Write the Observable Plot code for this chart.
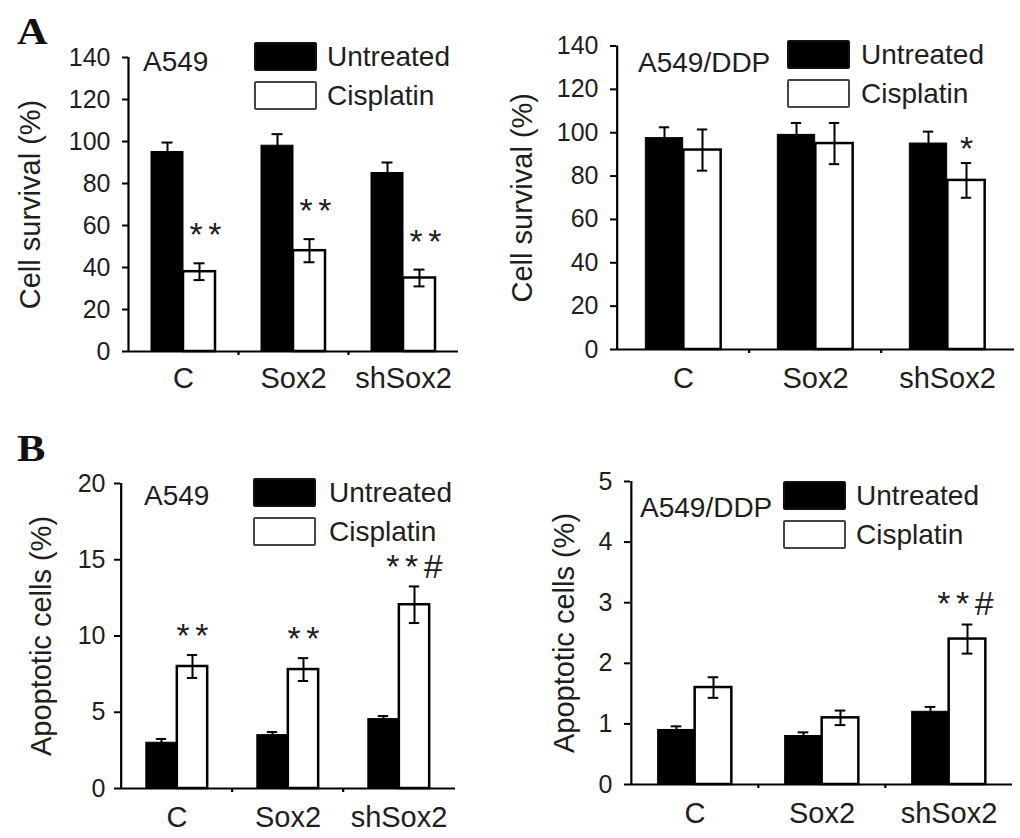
<!DOCTYPE html>
<html>
<head>
<meta charset="utf-8">
<script src="https://cdn.jsdelivr.net/npm/d3@7"></script>
<script src="https://cdn.jsdelivr.net/npm/@observablehq/plot@0.6"></script>
<style>
  body { margin: 0; background: #fff; }
  #fig { position: relative; width: 1020px; height: 838px; overflow: hidden; background: #fff;
         font-family: "Liberation Sans", Arial, sans-serif; color: #1e1e1e; }
  .panel { position: absolute; width: 510px; height: 420px; }
  .panel svg { overflow: visible; }
  g[aria-label="y-axis label"] { font-size: 29px; }
  g[aria-label="text"] text { letter-spacing: 5.5px; }
  .tag { position: absolute; font-family: "Liberation Serif", "Times New Roman", serif; font-weight: bold;
         font-size: 38px; line-height: 1; transform: scaleX(1.12); transform-origin: left top; color: #111; }
  .cell { position: absolute; font-size: 28px; line-height: 1; white-space: nowrap; z-index: 2; }
  .legend { position: absolute; z-index: 2; }
  .legend .row { display: flex; align-items: center; height: 29px; margin-bottom: 10px; font-size: 28px; line-height: 1; white-space: nowrap; }
  .legend .sw { width: 63px; height: 29px; box-sizing: border-box; border-radius: 2px; flex: none; }
</style>
</head>
<body>
<div id="fig"></div>
<script>
// ---------- data ----------
const categories = ["C", "Sox2", "shSox2"];
const treatments = ["Untreated", "Cisplatin"];
const cellLines = ["A549", "A549/DDP", "A549", "A549/DDP"];
const yLabels = ["Cell survival (%)", "Apoptotic cells (%)"];
const panelTags = ["A", "B"];

const survA549Untreated    = [95, 98, 85];
const survA549UntreatedErr = [4.5, 5.5, 5];
const survA549Cisplatin    = [38, 48, 35];
const survA549CisplatinErr = [4, 5.5, 4];

const survDDPUntreated     = [97.5, 99, 95];
const survDDPUntreatedErr  = [5, 5.5, 5.5];
const survDDPCisplatin     = [92, 95, 78];
const survDDPCisplatinErr  = [9.5, 9.5, 8];

const apoA549Untreated     = [3.0, 3.5, 4.55];
const apoA549UntreatedErr  = [0.25, 0.2, 0.2];
const apoA549Cisplatin     = [8.0, 7.8, 12.05];
const apoA549CisplatinErr  = [0.75, 0.75, 1.2];

const apoDDPUntreated      = [0.9, 0.8, 1.2];
const apoDDPUntreatedErr   = [0.06, 0.06, 0.08];
const apoDDPCisplatin      = [1.6, 1.1, 2.4];
const apoDDPCisplatinErr   = [0.17, 0.12, 0.24];

const sigA549Surv = ["**", "**", "**"];
const sigDDPSurv  = ["", "", "*"];
const sigA549Apo  = ["**", "**", "**#"];
const sigDDPApo   = ["", "", "**#"];

const ticksSurv    = [0, 20, 40, 60, 80, 100, 120, 140];
const ticksApoA549 = [0, 5, 10, 15, 20];
const ticksApoDDP  = [0, 1, 2, 3, 4, 5];

// ---------- drawing ----------
const FONT = '"Liberation Sans", Arial, sans-serif';
const fig = document.getElementById("fig");

function panel(cfg) {
  const W = 510, H = 420;
  const bw = (W - cfg.ml - cfg.mr) / categories.length;
  const w = cfg.barW, cap = 11;
  const rows = categories.flatMap((c, i) => [
    {cat: c, treat: treatments[0], v: cfg.u[i], e: cfg.ue[i]},
    {cat: c, treat: treatments[1], v: cfg.c[i], e: cfg.ce[i], s: cfg.sig[i]}
  ]);
  const un = rows.filter(d => d.treat === treatments[0]);
  const ci = rows.filter(d => d.treat === treatments[1]);
  const sigRows = ci.filter(d => d.s);
  const capU = {insetLeft: bw / 2 - w / 2 - cap / 2, insetRight: bw / 2 + w / 2 - cap / 2};
  const capC = {insetLeft: bw / 2 + w / 2 - cap / 2, insetRight: bw / 2 - w / 2 - cap / 2};
  const svg = Plot.plot({
    width: W, height: H,
    marginLeft: cfg.ml, marginRight: cfg.mr, marginTop: cfg.mt, marginBottom: cfg.mb,
    style: {fontFamily: FONT, background: "transparent", maxWidth: "none", overflow: "visible"},
    x: {domain: categories, padding: 0},
    y: {domain: cfg.yDomain},
    marks: [
      Plot.barY(un, {x: "cat", y: "v", fill: "black", stroke: "black", strokeWidth: 1,
                     insetLeft: bw / 2 - w, insetRight: bw / 2}),
      Plot.barY(ci, {x: "cat", y: "v", fill: "white", stroke: "black", strokeWidth: 2.5,
                     insetLeft: bw / 2, insetRight: bw / 2 - w}),
      Plot.ruleX(un, {x: "cat", y1: d => d.v - d.e, y2: d => d.v + d.e, dx: -w / 2, stroke: "black", strokeWidth: 2}),
      Plot.ruleX(ci, {x: "cat", y1: d => d.v - d.e, y2: d => d.v + d.e, dx: w / 2, stroke: "black", strokeWidth: 2}),
      Plot.tickY(un, {x: "cat", y: d => d.v + d.e, ...capU, stroke: "black", strokeWidth: 2}),
      Plot.tickY(un, {x: "cat", y: d => d.v - d.e, ...capU, stroke: "black", strokeWidth: 2}),
      Plot.tickY(ci, {x: "cat", y: d => d.v + d.e, ...capC, stroke: "black", strokeWidth: 2}),
      Plot.tickY(ci, {x: "cat", y: d => d.v - d.e, ...capC, stroke: "black", strokeWidth: 2}),
      Plot.text(sigRows, {x: "cat", y: d => d.v + d.e, text: "s", dx: w / 2 + cfg.sigDx + 2.75, dy: cfg.sigDy,
                          lineAnchor: "bottom", fontSize: 34, fill: "#1e1e1e"}),
      Plot.ruleY([cfg.yDomain[0]], {stroke: "black", strokeWidth: 2.2}),
      Plot.ruleX([categories[0]], {dx: -bw / 2, stroke: "black", strokeWidth: 2.2}),
      Plot.ruleX(categories.slice(1), {y1: cfg.yDomain[0], y2: cfg.yDomain[0], insetBottom: -4, dx: -bw / 2,
                                       stroke: "black", strokeWidth: 2.2}),
      Plot.axisY({ticks: cfg.ticks, tickFormat: d => String(d), tickSize: 6, tickPadding: cfg.yPad, fontSize: 25,
                  stroke: "black", strokeWidth: 2, fill: "#1e1e1e", label: cfg.label, labelAnchor: "center",
                  labelOffset: cfg.labelOffset, labelArrow: "none"}),
      Plot.axisX({tickSize: 0, tickPadding: cfg.xPad, fontSize: 29, fill: "#1e1e1e", label: null})
    ]
  });
  const div = document.createElement("div");
  div.className = "panel";
  div.style.left = cfg.left + "px";
  div.style.top = cfg.top + "px";
  div.appendChild(svg);
  fig.appendChild(div);
}

panel({left: 0, top: 0, ml: 128, mr: 52, mt: 57, mb: 69, barW: 32,
       u: survA549Untreated, ue: survA549UntreatedErr, c: survA549Cisplatin, ce: survA549CisplatinErr,
       sig: sigA549Surv, yDomain: [0, 140], ticks: ticksSurv, label: yLabels[0],
       yPad: 12, xPad: 16, labelOffset: 109, sigDx: 6, sigDy: -17});
panel({left: 510, top: 0, ml: 106, mr: 6, mt: 45.5, mb: 71, barW: 38,
       u: survDDPUntreated, ue: survDDPUntreatedErr, c: survDDPCisplatin, ce: survDDPCisplatinErr,
       sig: sigDDPSurv, yDomain: [0, 140], ticks: ticksSurv, label: yLabels[0],
       yPad: 12, xPad: 18, labelOffset: 105, sigDx: 0, sigDy: -3});
panel({left: 0, top: 418, ml: 120, mr: 55, mt: 65, mb: 50, barW: 31,
       u: apoA549Untreated, ue: apoA549UntreatedErr, c: apoA549Cisplatin, ce: apoA549CisplatinErr,
       sig: sigA549Apo, yDomain: [0, 20], ticks: ticksApoA549, label: yLabels[1],
       yPad: 9, xPad: 18, labelOffset: 90, sigDx: 0, sigDy: -8});
panel({left: 510, top: 418, ml: 120, mr: 8, mt: 63, mb: 54, barW: 37,
       u: apoDDPUntreated, ue: apoDDPUntreatedErr, c: apoDDPCisplatin, ce: apoDDPCisplatinErr,
       sig: sigDDPApo, yDomain: [0, 5], ticks: ticksApoDDP, label: yLabels[1],
       yPad: 12, xPad: 18, labelOffset: 77, sigDx: -2, sigDy: -10});

// panel tags
[[panelTags[0], 17, 12], [panelTags[1], 17, 429]].forEach(([t, x, y]) => {
  const d = document.createElement("div");
  d.className = "tag"; d.textContent = t;
  d.style.left = x + "px"; d.style.top = y + "px";
  fig.appendChild(d);
});

// cell line labels
[[cellLines[0], 143, 48], [cellLines[1], 638, 49], [cellLines[2], 144, 482], [cellLines[3], 640, 494]].forEach(([t, x, y]) => {
  const d = document.createElement("div");
  d.className = "cell"; d.textContent = t;
  d.style.left = x + "px"; d.style.top = y + "px";
  fig.appendChild(d);
});

// legends
[[254, 42, 10], [787, 40, 11], [253, 478, 13], [783, 481, 10]].forEach(([x, y, gap]) => {
  const lg = document.createElement("div");
  lg.className = "legend";
  lg.style.left = x + "px"; lg.style.top = y + "px";
  treatments.forEach((t, i) => {
    const row = document.createElement("div");
    row.className = "row";
    const sw = document.createElement("div");
    sw.className = "sw";
    sw.style.marginRight = gap + "px";
    if (i === 0) { sw.style.background = "#000"; sw.style.border = "2px solid #111"; }
    else { sw.style.background = "#fff"; sw.style.border = "2.5px solid #444"; }
    const tx = document.createElement("span");
    tx.textContent = t;
    row.appendChild(sw); row.appendChild(tx);
    lg.appendChild(row);
  });
  fig.appendChild(lg);
});
</script>
</body>
</html>
